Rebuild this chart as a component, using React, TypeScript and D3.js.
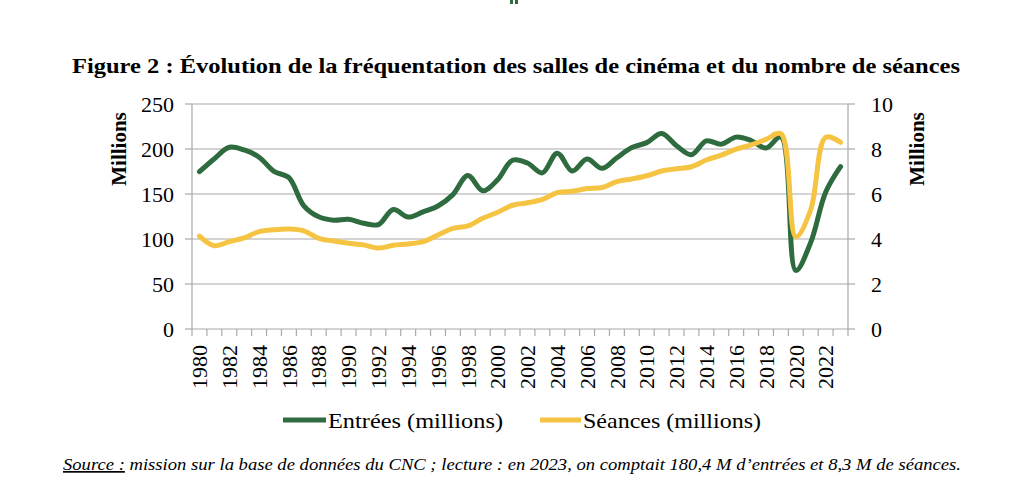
import * as d3 from "d3";

// Fréquentation des salles (CNC) : entrées en millions (axe gauche), séances en millions (axe droit)
const years = [
  1980, 1981, 1982, 1983, 1984, 1985, 1986, 1987, 1988, 1989, 1990, 1991, 1992, 1993, 1994,
  1995, 1996, 1997, 1998, 1999, 2000, 2001, 2002, 2003, 2004, 2005, 2006, 2007, 2008, 2009,
  2010, 2011, 2012, 2013, 2014, 2015, 2016, 2017, 2018, 2019, 2020, 2021, 2022, 2023,
];
const entrees = [
  174.8, 189.2, 201.9, 198.9, 190.9, 175.1, 168.1, 136.9, 124.7, 120.9, 121.9, 117.5, 116.0, 132.7, 124.4,
  130.2, 136.7, 149.3, 170.6, 153.6, 165.8, 187.5, 184.4, 173.5, 195.4, 175.5, 188.8, 178.5, 190.3, 201.6,
  207.1, 217.2, 203.6, 193.7, 209.1, 205.4, 213.2, 209.4, 201.0, 213.3, 65.1, 96.2, 152.0, 180.4,
];
const seances = [
  4.13, 3.7, 3.88, 4.05, 4.33, 4.41, 4.44, 4.36, 4.03, 3.91, 3.81, 3.74, 3.6, 3.72, 3.78,
  3.88, 4.18, 4.47, 4.58, 4.92, 5.19, 5.5, 5.61, 5.76, 6.06, 6.12, 6.24, 6.29, 6.55, 6.67,
  6.81, 7.02, 7.12, 7.21, 7.51, 7.73, 7.99, 8.18, 8.43, 8.68, 4.1, 5.3, 8.52, 8.3,
];
const leftTicks = [0, 50, 100, 150, 200, 250];
const rightTicks = [0, 2, 4, 6, 8, 10];
const yearLabels = years.filter((y) => y % 2 === 0);

const GREEN = "#2e6b3f";
const YELLOW = "#f6c443";
const GRID = "#a9a9a9";
const FONT = "'Liberation Serif', 'Times New Roman', serif";

export default function App() {
  const left = 192, right = 848, top = 104, bottom = 329;

  const x = d3.scaleBand<number>().domain(years).range([left, right]);
  const cx = (yr: number) => (x(yr) ?? 0) + x.bandwidth() / 2;
  const yL = d3.scaleLinear().domain([0, 250]).range([bottom, top]);
  const yR = d3.scaleLinear().domain([0, 10]).range([bottom, top]);

  // lissage proche de celui d'Excel (moins de dépassement sur les fortes variations)
  const curve = d3.curveCatmullRom.alpha(0.5);
  const lineE = d3.line<number>().x((_, i) => cx(years[i])).y((d) => yL(d)).curve(curve);
  const lineS = d3.line<number>().x((_, i) => cx(years[i])).y((d) => yR(d)).curve(curve);

  const boundaries = [...years.map((yr) => x(yr) ?? 0), right];

  return (
    <svg
      width={1024}
      height={497}
      style={{ position: "absolute", left: 0, top: 0, background: "#fff" }}
      fontFamily={FONT}
    >
      {/* petit reste de logo coupé en haut */}
      <rect x={510} y={0} width={3} height={4} fill={GREEN} />
      <rect x={515} y={0} width={3} height={4} fill={GREEN} />

      <text
        x={72}
        y={73}
        fontSize={22}
        fontWeight="bold"
        textLength={888}
        lengthAdjust="spacingAndGlyphs"
      >
        Figure 2 : Évolution de la fréquentation des salles de cinéma et du nombre de séances
      </text>

      {/* grille */}
      {leftTicks.slice(1).map((t) => (
        <line key={t} x1={left} x2={right} y1={yL(t)} y2={yL(t)} stroke={GRID} strokeWidth={1.2} />
      ))}

      {/* axe gauche */}
      <line x1={left} x2={left} y1={top} y2={bottom} stroke={GRID} strokeWidth={1.2} />
      {leftTicks.map((t) => (
        <g key={t}>
          <line x1={left - 7} x2={left} y1={yL(t)} y2={yL(t)} stroke={GRID} strokeWidth={1.2} />
          <text x={174} y={yL(t)} dy="0.35em" textAnchor="end" fontSize={22}>
            {t}
          </text>
        </g>
      ))}

      {/* axe droit */}
      <line x1={right} x2={right} y1={top} y2={bottom} stroke={GRID} strokeWidth={1.2} />
      {rightTicks.map((t) => (
        <g key={t}>
          <line x1={right} x2={right + 7} y1={yR(t)} y2={yR(t)} stroke={GRID} strokeWidth={1.2} />
          <text x={871} y={yR(t)} dy="0.35em" textAnchor="start" fontSize={22}>
            {t}
          </text>
        </g>
      ))}

      {/* axe des abscisses */}
      <line x1={left} x2={right} y1={bottom} y2={bottom} stroke={GRID} strokeWidth={1.2} />
      {boundaries.map((b, i) => (
        <line key={i} x1={b} x2={b} y1={bottom} y2={bottom + 7} stroke={GRID} strokeWidth={1.2} />
      ))}
      {yearLabels.map((yr) => (
        <text
          key={yr}
          transform={`translate(${cx(yr)},345) rotate(-90)`}
          dy="0.35em"
          textAnchor="end"
          fontSize={22}
        >
          {yr}
        </text>
      ))}

      {/* titres d'axes */}
      <text
        transform="translate(119,149) rotate(-90)"
        dy="0.35em"
        textAnchor="middle"
        fontSize={21}
        fontWeight="bold"
      >
        Millions
      </text>
      <text
        transform="translate(917,149) rotate(-90)"
        dy="0.35em"
        textAnchor="middle"
        fontSize={21}
        fontWeight="bold"
      >
        Millions
      </text>

      {/* séries */}
      <path d={lineE(entrees) ?? ""} fill="none" stroke={GREEN} strokeWidth={5} strokeLinejoin="round" strokeLinecap="round" />
      <path d={lineS(seances) ?? ""} fill="none" stroke={YELLOW} strokeWidth={5} strokeLinejoin="round" strokeLinecap="round" />

      {/* légende */}
      <line x1={283} x2={326} y1={420} y2={420} stroke={GREEN} strokeWidth={5} />
      <text x={328} y={420} dy="0.35em" fontSize={22} textLength={175} lengthAdjust="spacingAndGlyphs">
        Entrées (millions)
      </text>
      <line x1={540} x2={581} y1={420} y2={420} stroke={YELLOW} strokeWidth={5} />
      <text x={583} y={420} dy="0.35em" fontSize={22} textLength={178} lengthAdjust="spacingAndGlyphs">
        Séances (millions)
      </text>

      {/* source */}
      <text
        x={63}
        y={470}
        fontSize={17}
        fontStyle="italic"
        textLength={898}
        lengthAdjust="spacingAndGlyphs"
      >
        <tspan textDecoration="underline">Source :</tspan>
        <tspan> mission sur la base de données du CNC ; lecture : en 2023, on comptait 180,4 M d’entrées et 8,3 M de séances.</tspan>
      </text>
    </svg>
  );
}
